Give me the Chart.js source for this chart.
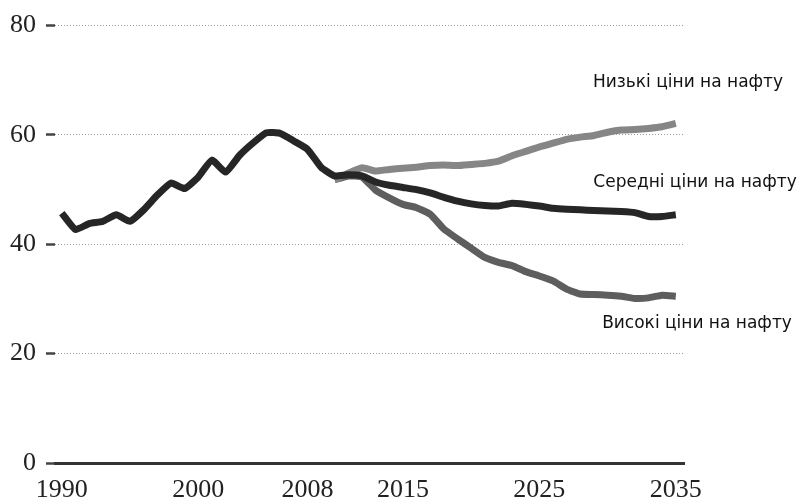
<!DOCTYPE html>
<html>
<head>
<meta charset="utf-8">
<script src="https://cdn.jsdelivr.net/npm/chart.js@4/dist/chart.umd.min.js"></script>
<style>
  html, body { margin: 0; padding: 0; background: #ffffff; }
  #wrap { width: 798px; height: 499px; position: relative; }
</style>
</head>
<body>
<div id="wrap"><canvas id="c" width="798" height="499"></canvas></div>
<script>
// ---- data ----
const histYears = [1990,1991,1992,1993,1994,1995,1996,1997,1998,1999,2000,2001,2002,2003,2004,2005,2006,2007,2008,2009,
                   2010,2011,2012,2013,2014,2015,2016,2017,2018,2019,2020,2021,2022,2023,2024,2025,2026,2027,2028,2029,
                   2030,2031,2032,2033,2034,2035];
const midValues = [45.7,42.7,43.8,44.2,45.4,44.2,46.3,49.0,51.2,50.2,52.3,55.4,53.2,56.2,58.5,60.4,60.3,58.9,57.4,54.1,
                   52.5,52.7,52.5,51.4,50.8,50.4,50.0,49.4,48.6,47.9,47.4,47.1,47.0,47.5,47.3,47.0,46.6,46.4,46.3,46.2,
                   46.1,46.0,45.8,45.1,45.1,45.4];
const scenYears = [2010,2011,2012,2013,2014,2015,2016,2017,2018,2019,2020,2021,2022,2023,2024,2025,2026,2027,2028,2029,
                   2030,2031,2032,2033,2034,2035];
const lowValues = [51.8,53.0,54.0,53.4,53.7,53.9,54.1,54.4,54.5,54.4,54.6,54.8,55.2,56.2,57.0,57.8,58.5,59.2,59.6,59.9,
                   60.5,60.9,61.0,61.2,61.5,62.1];
const highValues = [51.8,52.5,52.3,49.9,48.5,47.3,46.7,45.5,42.8,41.0,39.3,37.6,36.7,36.1,35.0,34.2,33.3,31.8,30.9,30.8,
                    30.7,30.5,30.1,30.2,30.7,30.5];
const xTickYears = [1990,2000,2008,2015,2025,2035];
const yTickValues = [0,20,40,60,80];
const seriesNames = ["Середні ціни на нафту","Низькі ціни на нафту","Високі ціни на нафту"];
const labelTexts = ["Низькі ціни на нафту","Середні ціни на нафту","Високі ціни на нафту"];

function pts(xs, ys) { return xs.map((x, i) => ({ x: x, y: ys[i] })); }

const lineStyle = { borderWidth: 7, pointRadius: 0, tension: 0.15, borderJoinStyle: 'round', borderCapStyle: 'butt', fill: false };

const labelPlugin = {
  id: 'sideLabels',
  afterDraw(chart) {
    const ctx = chart.ctx;
    ctx.save();
    ctx.font = '17px "DejaVu Sans"';
    ctx.fillStyle = '#111';
    ctx.textAlign = 'center';
    ctx.textBaseline = 'middle';
    const pos = [[688, 83], [695, 183], [697, 324]];
    labelTexts.forEach((t, i) => ctx.fillText(t, pos[i][0], pos[i][1]));
    ctx.restore();
  }
};

new Chart(document.getElementById('c'), {
  type: 'line',
  data: {
    datasets: [
      Object.assign({ label: seriesNames[0], data: pts(histYears, midValues), borderColor: '#262626' }, lineStyle),
      Object.assign({ label: seriesNames[1], data: pts(scenYears, lowValues), borderColor: '#868686' }, lineStyle),
      Object.assign({ label: seriesNames[2], data: pts(scenYears, highValues), borderColor: '#5e5e5e' }, lineStyle)
    ]
  },
  options: {
    responsive: false,
    animation: false,
    layout: { padding: { left: 0, right: 114, top: 20, bottom: 0 } },
    plugins: { legend: { display: false }, tooltip: { enabled: false } },
    scales: {
      x: {
        type: 'linear',
        min: 1989.5,
        max: 2035.6,
        afterBuildTicks(scale) { scale.ticks = xTickYears.map(v => ({ value: v })); },
        afterFit(scale) { scale.height = 36; },
        grid: { display: false, drawTicks: false },
        border: { display: true, color: '#333', width: 3 },
        ticks: {
          callback: v => String(v),
          font: { family: 'Liberation Serif', size: 26 },
          color: '#222',
          padding: 12,
          maxRotation: 0,
          autoSkip: false
        }
      },
      y: {
        min: 0,
        max: 80,
        afterBuildTicks(scale) { scale.ticks = yTickValues.map(v => ({ value: v })); },
        afterFit(scale) { scale.width = 55; },
        grid: {
          color: '#9a9a9a',
          lineWidth: 1,
          drawTicks: true,
          tickLength: 9,
          tickColor: '#444',
          tickWidth: 2.5,
          tickBorderDash: []
        },
        border: { display: false, dash: [1, 2] },
        ticks: {
          font: { family: 'Liberation Serif', size: 26 },
          color: '#222',
          padding: 10
        }
      }
    }
  },
  plugins: [labelPlugin]
});
</script>
</body>
</html>
